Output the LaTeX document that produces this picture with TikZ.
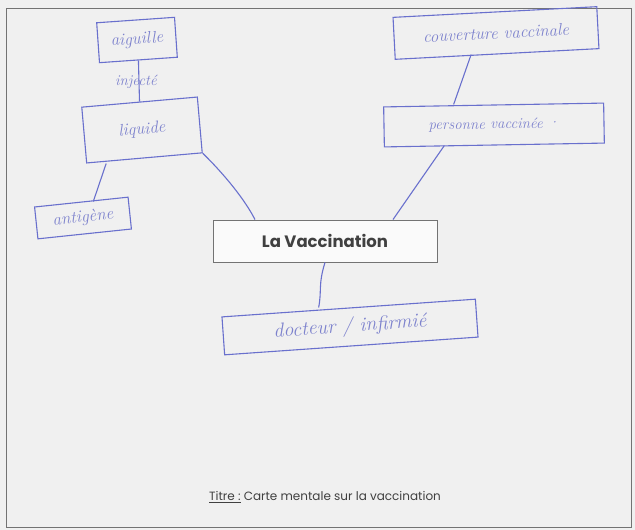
\documentclass[tikz,border=0pt]{standalone}
\usepackage{fontspec}
\setsansfont{Poppins}
\begin{document}
\begin{tikzpicture}[x=1pt,y=-1pt,
  hand/.style={draw=inkblue, line width=1.1pt, rectangle, text=inktext, font=\itshape\fontsize{17}{19}\selectfont, inner sep=2pt},
  link/.style={draw=inkblue, line width=1.1pt},
  main/.style={draw=black!55, line width=0.9pt, fill=white!60!boxbg, font=\sffamily\bfseries\fontsize{16.5}{19}\selectfont, text=black!75},
]
\definecolor{inkblue}{RGB}{105,112,205}
\definecolor{inktext}{RGB}{125,130,205}
\definecolor{boxbg}{RGB}{242,242,242}
\definecolor{pagebg}{RGB}{240,240,240}
\useasboundingbox (0,0) rectangle (635,530);
\fill[pagebg] (0,0) rectangle (635,530);
\draw[black!55, line width=0.8pt] (6,8) rectangle (631,527);

\node[hand, minimum width=78pt, minimum height=40pt, rotate=4] (aig) at (137,40) {aiguille};
\node[hand, minimum width=116pt, minimum height=56pt, rotate=5] (liq) at (142,130) {liquide};
\node[hand, minimum width=94pt, minimum height=32pt, rotate=6] (ant) at (83,218) {antigène};
\node[hand, minimum width=204pt, minimum height=42pt, rotate=3] (cou) at (496,33) {couverture vaccinale};
\node[hand, minimum width=220pt, minimum height=40pt, rotate=1, font=\itshape\fontsize{15}{17}\selectfont] (per) at (494,125) {personne vaccinée ·};
\node[main, minimum width=224pt, minimum height=42pt] (vac) at (325,241) {La Vaccination};
\node[hand, minimum width=254pt, minimum height=38pt, rotate=4, font=\itshape\fontsize{20}{22}\selectfont] (doc) at (350,327) {docteur / infirmié};

\node[text=inktext, font=\itshape\fontsize{15}{17}\selectfont, inner sep=1pt] (inj) at (136,82) {injecté};

\draw[link] (aig.south) -- (liq.north);
\draw[link] ([xshift=20pt]liq.south west) -- ([xshift=12pt]ant.north);
\draw[link] (liq.south east) .. controls (225,175) and (245,200) .. ([xshift=-70pt]vac.north);
\draw[link] ([xshift=68pt]vac.north) -- ([xshift=-50pt]per.south);
\draw[link] ([xshift=-40pt]per.north) -- ([xshift=-26pt]cou.south);
\draw[link] (vac.south) .. controls (318,285) and (322,290) .. ([xshift=-30pt]doc.north);

\node[font=\sffamily\fontsize{12}{14}\selectfont, text=black!75] (titre) at (325,497) {\underline{Titre :} Carte mentale sur la vaccination};
\end{tikzpicture}
\end{document}
